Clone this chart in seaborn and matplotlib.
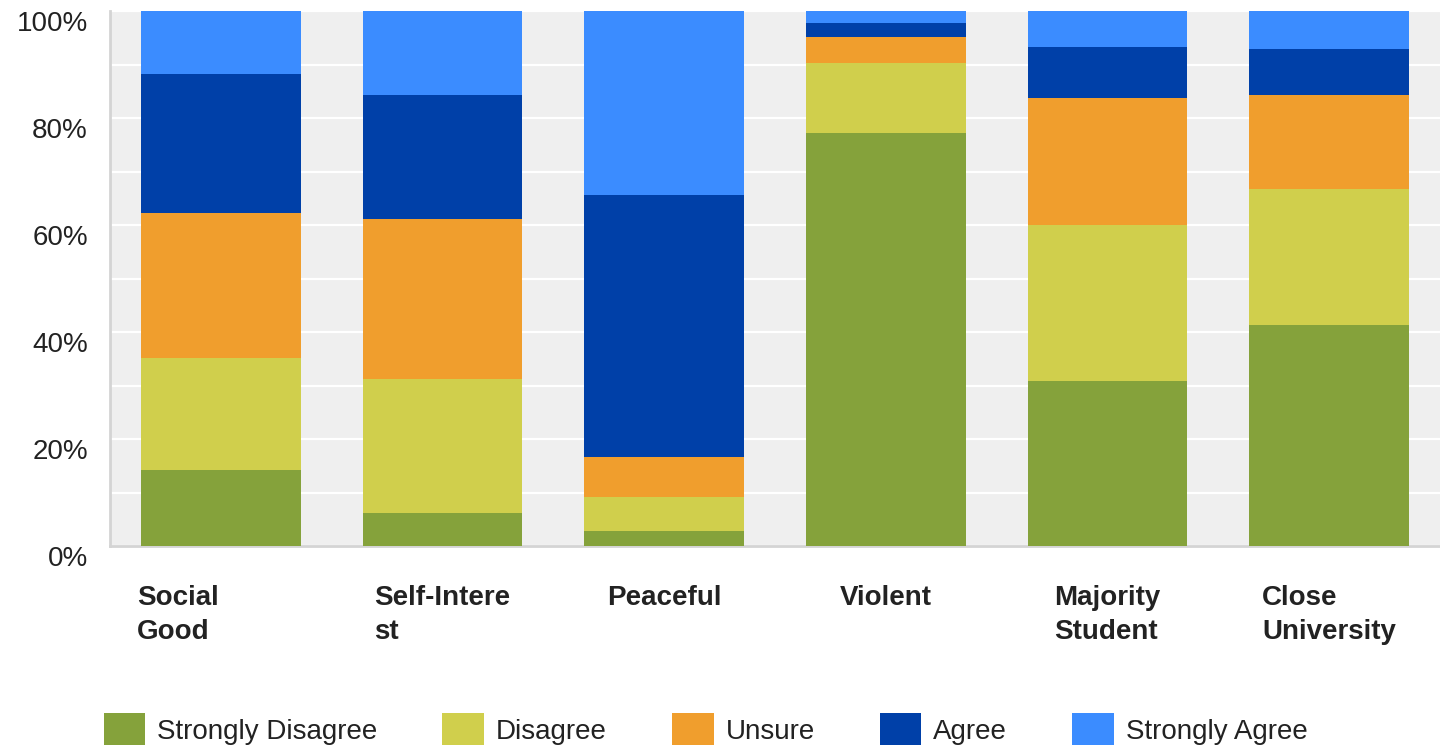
import pandas as pd
import numpy as np
import seaborn as sns
import matplotlib.pyplot as plt
import matplotlib.transforms as mtransforms
from matplotlib.patches import Patch

# categories and response shares (percent)
categories = ['Social\nGood', 'Self-Intere\nst', 'Peaceful', 'Violent', 'Majority\nStudent', 'Close\nUniversity']
responses = ['Strongly Disagree', 'Disagree', 'Unsure', 'Agree', 'Strongly Agree']
strongly_disagree = [14.2, 6.2, 2.8, 77.3, 30.9, 41.4]
disagree = [21.0, 25.1, 6.4, 13.0, 29.2, 25.3]
unsure = [27.0, 29.9, 7.5, 4.8, 23.6, 17.6]
agree = [26.0, 23.1, 49.0, 2.7, 9.6, 8.6]
strongly_agree = [11.8, 15.7, 34.3, 2.2, 6.7, 7.1]
colors = ['#85a23b', '#d0cf4c', '#f09e2d', '#0040a8', '#3b8cff']
ytick_labels = ['0%', '20%', '40%', '60%', '80%', '100%']

series = [strongly_disagree, disagree, unsure, agree, strongly_agree]
df = pd.DataFrame({'Category': categories})
cum = np.zeros(len(categories))
for name, vals in zip(responses, series):
    cum = cum + np.array(vals)
    df[name] = cum

sns.set_style('white')
plt.rcParams['font.family'] = ['Liberation Sans', 'DejaVu Sans']

fig = plt.figure(figsize=(14.4, 7.45), dpi=100)
ax = fig.add_axes([0.0764, 0.267, 0.9236, 0.718])
ax.set_facecolor('#efefef')

# draw stacked bars from the top layer down
for name, col in reversed(list(zip(responses, colors))):
    sns.barplot(data=df, x='Category', y=name, color=col, saturation=1,
                width=0.72, ax=ax, edgecolor='none', zorder=3)

ax.set_ylim(0, 100)
ax.set_xlim(-0.5, len(categories) - 0.5)
ax.set_yticks([0, 20, 40, 60, 80, 100])
ax.set_yticks([10, 30, 50, 70, 90], minor=True)
ax.set_yticklabels(ytick_labels)
ax.yaxis.grid(True, which='both', color='white', linewidth=1.6, zorder=0)
ax.set_axisbelow(True)
ax.set_xlabel('')
ax.set_ylabel('')

ax.tick_params(axis='y', which='both', length=0, pad=16, labelsize=20, labelcolor='#222222')
ax.tick_params(axis='x', length=0, pad=28, labelsize=20)
for lab in ax.get_yticklabels():
    lab.set_transform(lab.get_transform() + mtransforms.ScaledTranslation(0, -0.1, fig.dpi_scale_trans))
for i, lab in enumerate(ax.get_xticklabels()):
    lab.set_fontweight('bold')
    lab.set_color('#222222')
    lab.set_multialignment('left')
    lab.set_verticalalignment('top')
    lab.set_linespacing(1.42)
    if i == 0:
        lab.set_transform(lab.get_transform() + mtransforms.ScaledTranslation(-0.43, 0, fig.dpi_scale_trans))

for side in ['top', 'right']:
    ax.spines[side].set_visible(False)
for side in ['left', 'bottom']:
    ax.spines[side].set_color('#d4d4d4')
    ax.spines[side].set_linewidth(2)

handles = [Patch(facecolor=c, edgecolor='none', label=r) for r, c in zip(responses, colors)]
fig.legend(handles=handles, loc='center', bbox_to_anchor=(0.49, 0.02), ncol=5,
           frameon=False, fontsize=20, handlelength=1.5, handleheight=1.5,
           handletextpad=0.43, columnspacing=2.34, labelcolor='#222222')

fig.savefig('out.png', dpi=100)
